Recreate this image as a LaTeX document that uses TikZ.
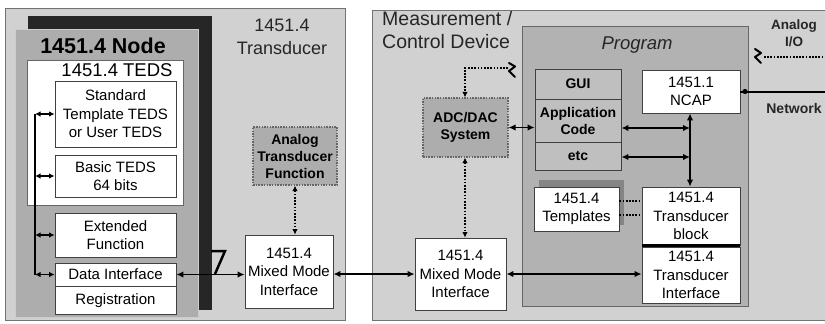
\documentclass[tikz,border=0pt]{standalone}
\usepackage{fontspec}
\setmainfont{Liberation Sans}
\usetikzlibrary{arrows.meta}
\begin{document}
\begin{tikzpicture}[x=1pt,y=-1pt,
  wbox/.style={draw=black!75, line width=0.8pt, fill=white, inner sep=0pt, align=center, font=\fontsize{15}{18.5}\selectfont},
  gbox/.style={draw=black!75, line width=0.8pt, fill=black!25, inner sep=0pt, align=center, font=\bfseries\fontsize{14}{17}\selectfont},
  dbox/.style={draw=black!60, line width=1.2pt, dash pattern=on 1.5pt off 1.2pt, fill=black!32, inner sep=0pt, align=center, font=\bfseries\fontsize{14}{17}\selectfont},
  lbl/.style={inner sep=0pt, align=center, text=black!85},
  tip/.tip={Latex[length=7pt,width=6.5pt]},
  stip/.tip={Latex[length=5.5pt,width=5.5pt]},
  arr/.style={line width=1.8pt, tip-tip},
  sarr/.style={line width=1.8pt, stip-stip},
  dotline/.style={line width=1.7pt, dash pattern=on 1.7pt off 1.5pt},
  dotarr/.style={dotline, stip-stip},
  squig/.style={line width=2pt, line cap=round, line join=round}
]
\useasboundingbox (0,0) rectangle (825,324);
\clip (0,0) rectangle (825,324);
\fill[white] (0,0) rectangle (825,324);

% ---------- left panel ----------
\fill[black!18] (5,8) rectangle (345,320);
\draw[black!55, line width=0.6pt] (5,8) rectangle (345,320);
\fill[black!85] (28,16) rectangle (212,310);
\node[draw=white!80!black, line width=1pt, fill=black!32, minimum width=183pt, minimum height=288pt, inner sep=0pt] (nodebox) at (106.5,173) {};
\node[lbl, text=black, font=\bfseries\fontsize{21.5}{24}\selectfont] (nodetitle) at (103,46) {1451.4 Node};
\node[draw=black!60, line width=0.8pt, fill=white, minimum width=156pt, minimum height=145pt, inner sep=0pt] (teds) at (105,132.5) {};
\node[lbl, text=black, font=\fontsize{18.5}{21}\selectfont] (tedstitle) at (117,70) {1451.4 TEDS};

\node[wbox, minimum width=121pt, minimum height=66pt] (std) at (115.5,114) {Standard\\Template TEDS\\or User TEDS};
\node[wbox, minimum width=121pt, minimum height=42pt] (basic) at (115.5,176) {Basic TEDS\\64 bits};
\node[wbox, minimum width=121pt, minimum height=44pt] (ext) at (115.5,235) {Extended\\Function};
\node[wbox, minimum width=121pt, minimum height=23pt] (dataif) at (115.5,274.5) {Data Interface};
\node[wbox, minimum width=121pt, minimum height=28pt] (reg) at (115.5,300.5) {Registration};

\coordinate (busL) at (35,0);
\draw[line width=1.8pt] (std.west -| busL) -- (dataif.west -| busL);
\draw[sarr] (std.west -| busL) -- (std.west);
\draw[sarr] (basic.west -| busL) -- (basic.west);
\draw[sarr] (ext.west -| busL) -- (ext.west);
\draw[sarr] (dataif.west -| busL) -- (dataif.west);

% transducer
\node[lbl, font=\fontsize{18}{23}\selectfont] (transtitle) at (282,37) {1451.4\\Transducer};
\node[dbox, minimum width=84pt, minimum height=58pt] (atf) at (295,156) {Analog\\Transducer\\Function};
\node[wbox, minimum width=88pt, minimum height=73pt] (mmiL) at (289,271.5) {1451.4\\Mixed Mode\\Interface};
\draw[dotarr] (atf.south) -- (atf.south |- mmiL.north);
\draw[arr] (dataif.east) -- (dataif.east -| mmiL.west);
\draw[line width=2.5pt, line join=miter] (211,251) -- (225,251) -- (215,274);

% ---------- right panel ----------
\fill[black!18] (372,10) rectangle (830,320);
\draw[black!55, line width=0.6pt] (372,10) rectangle (830,320);
\node[lbl, align=left, anchor=north west, font=\fontsize{19.5}{23}\selectfont] (mcd) at (382,11) {Measurement /\\Control Device};
\node[draw=black!60, line width=0.6pt, fill=black!30, minimum width=226pt, minimum height=280pt, inner sep=0pt] (prog) at (635,166) {};
\node[lbl, font=\itshape\fontsize{18.5}{22}\selectfont] (progtitle) at (637,45) {Program};

\node[gbox, minimum width=86pt, minimum height=30pt] (gui) at (578,84) {GUI};
\node[gbox, minimum width=86pt, minimum height=43pt] (app) at (578,120.5) {Application\\Code};
\node[gbox, minimum width=86pt, minimum height=28pt] (etc) at (578,156) {etc};

\node[dbox, minimum width=85pt, minimum height=59pt] (adc) at (465.5,127.5) {ADC/DAC\\System};
\node[wbox, minimum width=91pt, minimum height=72pt] (mmiR) at (460.5,274) {1451.4\\Mixed Mode\\Interface};

\node[wbox, minimum width=98pt, minimum height=43pt] (ncap) at (691,91.5) {1451.1\\NCAP};
\node[wbox, minimum width=98pt, minimum height=58pt] (tblock) at (691,216) {1451.4\\Transducer\\block};
\node[wbox, minimum width=98pt, minimum height=56pt] (tif) at (691,275) {1451.4\\Transducer\\Interface};
\draw[line width=2.5pt] (tblock.south west) -- (tblock.south east);

\fill[black!48] (539,180) rectangle (624,225);
\node[wbox, minimum width=85pt, minimum height=44pt] (templ) at (576.5,209) {1451.4\\Templates};
\draw[dotline] (templ.east |- 0,201) -- (tblock.west |- 0,201);
\draw[dotline] (templ.east |- 0,215) -- (tblock.west |- 0,215);

% analog input to ADC
\draw[squig] (509,63) -- (515,66.5) -- (509,71) -- (515,77);
\coordinate (adcin) at (465,68);
\draw[dotline, -stip] (508,68) -- (adcin) -- (adcin |- adc.north);
\draw[dotarr] (adc.south -| adcin) -- (mmiR.north -| adcin);
\draw[arr] (adc.east) -- (adc.east -| app.west);

% program bus
\coordinate (busR) at (690,0);
\draw[arr] (ncap.south -| busR) -- (tblock.north -| busR);
\coordinate (appy) at (0,128);
\coordinate (etcy) at (0,157);
\draw[arr] (app.east |- appy) -- (busR |- appy);
\draw[arr] (etc.east |- etcy) -- (busR |- etcy);

% interfaces
\draw[arr] (mmiL.east |- mmiR.west) -- (mmiR.west);
\draw[arr] (mmiR.east) -- (mmiR.east -| tif.west);

% network and analog I/O
\coordinate (netend) at (830,91.5);
\draw[line width=2pt] (ncap.east) -- (netend);
\fill (745,91.5) circle (2.6pt);
\node[lbl, font=\bfseries\fontsize{14}{17}\selectfont] (network) at (794,108) {Network};
\node[lbl, font=\bfseries\fontsize{13.5}{17}\selectfont] (aio) at (794,33) {Analog\\I/O};
\draw[squig] (755,49) -- (761,53) -- (755,57) -- (761,63);
\coordinate (aioend) at (830,57);
\draw[dotline] (764,57) -- (aioend);
\end{tikzpicture}
\end{document}
